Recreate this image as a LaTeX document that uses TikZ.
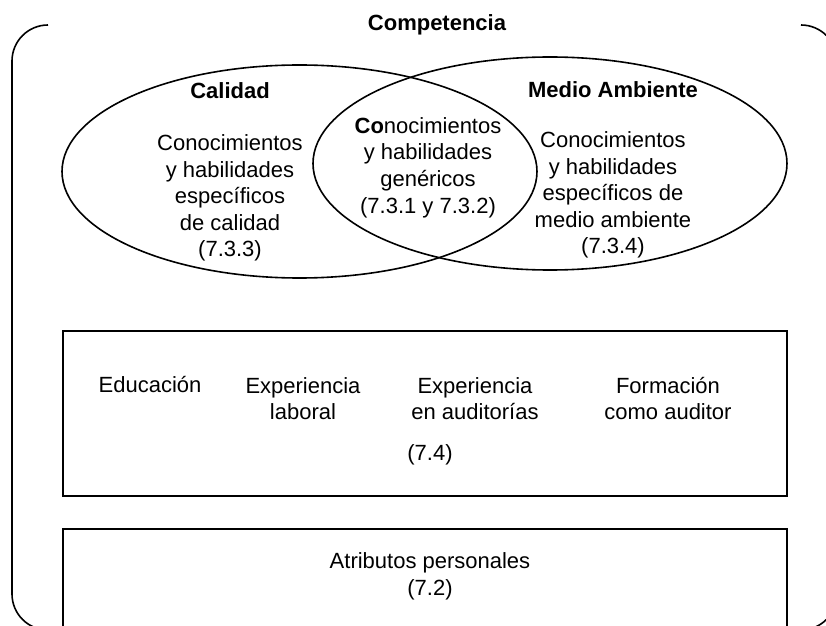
\documentclass[tikz,border=0pt]{standalone}
\usepackage{fontspec}
\setmainfont{Liberation Sans}
\usetikzlibrary{shapes.geometric}
\tikzset{
	ring/.style 2 args={ellipse,draw,line width=0.8pt,inner sep=0pt,minimum width=#1,minimum height=#2},
	panel/.style 2 args={rectangle,draw,line width=1pt,inner sep=0pt,minimum width=#1,minimum height=#2},
	txt/.style={align=center,inner sep=0pt,font=\fontsize{11}{13.3}\selectfont},
	btxt/.style={txt,font=\fontsize{11}{13.3}\selectfont\bfseries}
}
\begin{document}
\begin{tikzpicture}[x=0.5pt,y=-0.5pt]
						\useasboundingbox (0,0) rectangle (826,626);
						\clip (0,0) rectangle (826,626);

						\draw [line width=0.8pt, rounded corners=18pt] (48,25) -- (12,25) -- (12,630) -- (837,630) -- (837,25) -- (801,25);
						\node [btxt] (comp) at (437,25) {Competencia};

						\node [ring={237.5pt}{106.5pt}] (cal) at (299.5,171.5) {};
						\node [ring={237pt}{106.5pt}] (med) at (550,163.5) {};
						\node [btxt] (calt) at (230,91) {Calidad};
						\node [btxt] (medt) at (613,90) {Medio Ambiente};
						\node [txt] (calc) at (230,198) {Conocimientos\\y habilidades\\específicos\\de calidad\\(7.3.3)};
						\node [txt] (gen) at (428,167.5) {\textbf{Co}nocimientos\\y habilidades\\genéricos\\(7.3.1 y 7.3.2)};
						\node [txt] (medc) at (613,195) {Conocimientos\\y habilidades\\específicos de\\medio ambiente\\(7.3.4)};

						\node [panel={362pt}{82.5pt}] (exp) at (425,413.5) {};
						\node [txt] (edu) at (150,385) {Educación};
						\node [txt] (lab) at (303,398.5) {Experiencia\\laboral};
						\node [txt] (aud) at (475,398.5) {Experiencia\\en auditorías};
						\node [txt] (for) at (668,398.5) {Formación\\como auditor};
						\node [txt] (sec) at (430,455) {(7.4)};

						\node [panel={362pt}{70pt}] (atr) at (425,599) {};
						\node [txt] (atrt) at (430,576.5) {Atributos personales\\(7.2)};
					\end{tikzpicture}
\end{document}
